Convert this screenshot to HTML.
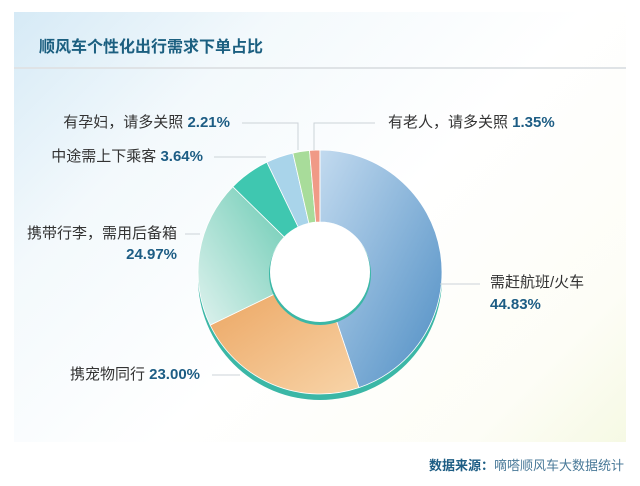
<!DOCTYPE html>
<html><head><meta charset="utf-8"><style>
body{margin:0;width:640px;height:486px;background:#fff;font-family:"Liberation Sans","Noto Sans CJK SC",sans-serif;overflow:hidden;position:relative}
.card{position:absolute;left:14px;top:12px;width:612px;height:430px;background:linear-gradient(135deg,#d6eaf6 0%,#f3f9fc 25%,#fff 55%,#fdfdf6 85%,#f6f9e4 100%)}
.hr{position:absolute;left:14px;top:67px;width:612px;height:2px;background:#dfe3e6}
.t{position:absolute;font-size:15px;color:#333;white-space:nowrap;line-height:18px}
.r{text-align:right}
.b{color:#1d5d84;font-weight:bold}
h1{position:absolute;left:39px;top:33px;margin:0;font-size:16px;color:#1b5f80;font-weight:bold}
</style></head><body>
<div class="card"></div><div class="hr"></div>
<h1>顺风车个性化出行需求下单占比</h1>
<svg width="640" height="486" style="position:absolute;left:0;top:0">
<defs>
<linearGradient id="gb" x1="0" y1="0" x2="1" y2="1"><stop offset="0" stop-color="#c2daef"/><stop offset="1" stop-color="#4f8ec4"/></linearGradient>
<linearGradient id="go" x1="0" y1="0" x2="1" y2="1"><stop offset="0" stop-color="#eca764"/><stop offset="1" stop-color="#f8d4a8"/></linearGradient>
<linearGradient id="gg" x1="1" y1="0" x2="0" y2="1"><stop offset="0" stop-color="#6ccbb4"/><stop offset="1" stop-color="#dff2ee"/></linearGradient>
</defs>
<ellipse cx="320" cy="278" rx="122" ry="122" fill="#3bb7a6"/>
<g id="pie"></g>
<g stroke="#ccd3d8" fill="none" stroke-width="1">
<polyline points="242,123 298,123 298,150"/>
<polyline points="214,157 266,157"/>
<polyline points="185,234 200,234"/>
<polyline points="212,375 240,375"/>
<polyline points="375,123 314,123 314,150"/>
<polyline points="480,284 440,284"/>
</g>
</svg>
<div class="t r" style="right:410px;top:114px">有孕妇，请多关照&nbsp;<span class="b">2.21%</span></div>
<div class="t r" style="right:437px;top:148px">中途需上下乘客&nbsp;<span class="b">3.64%</span></div>
<div class="t r" style="right:463px;top:225px">携带行李，需用后备箱</div>
<div class="t b r" style="right:463px;top:246px">24.97%</div>
<div class="t r" style="right:440px;top:366px">携宠物同行&nbsp;<span class="b">23.00%</span></div>
<div class="t" style="left:388px;top:114px">有老人，请多关照&nbsp;<span class="b">1.35%</span></div>
<div class="t" style="left:490px;top:274px">需赶航班/火车</div>
<div class="t b" style="left:490px;top:296px">44.83%</div>
<div class="t r" style="right:16px;top:457px;font-size:13px;color:#1d5d84;font-weight:bold">数据来源：<span style="font-weight:normal;color:#4a7a99">嘀嗒顺风车大数据统计</span></div>
<script>
var segs=[[44.83,'url(#gb)'],[23,'url(#go)'],[19.5,'url(#gg)'],[5.5,'#3fc7b0'],[3.6,'#a9d4ea'],[2.2,'#a8dc9a'],[1.35,'#f09a86']];
var cx=320,cy=272,R=122,r=50,a=0,s='';
function p(rad,ang){return [cx+rad*Math.sin(ang),cy-rad*Math.cos(ang)];}
segs.forEach(function(g){var a0=a/100*2*Math.PI;a+=g[0];var a1=a/100*2*Math.PI;var l=(a1-a0)>Math.PI?1:0;
var A=p(R,a0),B=p(R,a1),C=p(r,a1),D=p(r,a0);
s+='<path d="M'+A+' A'+R+','+R+' 0 '+l+' 1 '+B+' L'+C+' A'+r+','+r+' 0 '+l+' 0 '+D+'Z" fill="'+g[1]+'" stroke="#fff" stroke-width="0.8"/>';});
s+='<circle cx="320" cy="274" r="51" fill="#3bb7a6"/><circle cx="320" cy="272" r="50" fill="#fff"/>';
document.getElementById('pie').innerHTML=s;
</script>
</body></html>
